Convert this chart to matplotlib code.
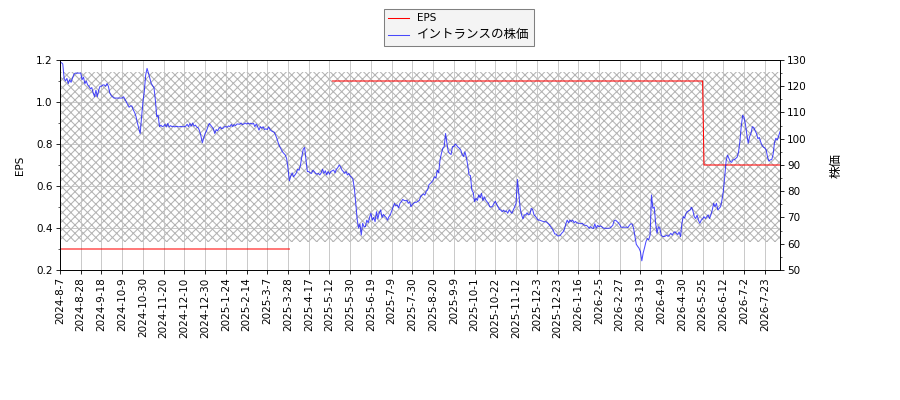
import numpy as np
import matplotlib
matplotlib.use("Agg")
import matplotlib.pyplot as plt
from matplotlib.ticker import AutoMinorLocator

plt.rcParams['font.family'] = ['DejaVu Sans', 'Noto Sans CJK JP']

# tick labels, one every 15 trading days
tick_labels = [
    "2024-8-7", "2024-8-28", "2024-9-18", "2024-10-9", "2024-10-30", "2024-11-20",
    "2024-12-10", "2024-12-30", "2025-1-24", "2025-2-14", "2025-3-7", "2025-3-28",
    "2025-4-17", "2025-5-12", "2025-5-30", "2025-6-19", "2025-7-9", "2025-7-30",
    "2025-8-20", "2025-9-9", "2025-10-1", "2025-10-22", "2025-11-12", "2025-12-3",
    "2025-12-23", "2026-1-16", "2026-2-5", "2026-2-27", "2026-3-19", "2026-4-9",
    "2026-4-30", "2026-5-25", "2026-6-12", "2026-7-2", "2026-7-23",
]
tick_step = 15

# daily share price, 15 days per row
price = [
    129, 129, 128.5, 123, 122, 123, 121, 122.5, 121.5, 123, 124.5, 125, 125, 125, 125,
    125, 122.5, 123.5, 121, 122, 120.5, 120, 119, 119.5, 117.5, 116, 118.5, 116, 118.5, 120,
    120, 120.5, 120.5, 120, 121, 120, 117.5, 116.5, 116, 115.5, 115.5, 115.5, 115.5, 115.5, 115.5,
    115.5, 116, 115, 114, 113, 112, 112.5, 112.5, 111, 110, 108.5, 106, 104, 102, 108,
    114, 118, 124.3, 126.8, 125, 123, 121.1, 120.2, 119.5, 114.8, 108.4, 109, 104.6, 105.2, 104.6,
    104.8, 105.5, 104.5, 105.8, 104.5, 105, 104.6, 104.8, 104.5, 104.7, 104.7, 104.5, 104.7, 104.6, 104.6,
    104.6, 104.8, 105.5, 104.6, 105.8, 104.8, 106, 104.8, 105.2, 104.4, 104.2, 103, 101, 98.5, 100.2,
    102, 103, 104.5, 105.8, 105.2, 104.5, 103.8, 102, 103.5, 103, 104, 104.5, 103.8, 104, 104.6,
    104.6, 104.4, 104.9, 104.6, 105.5, 104.6, 105.4, 105, 105.6, 105.6, 105.5, 106, 105.4, 105.6, 106,
    105.6, 106, 105.6, 105.9, 105.6, 105.9, 104.6, 105.6, 104.6, 103.3, 104.6, 104, 104.6, 103.5, 103.8,
    103.5, 104.5, 103.5, 103, 102.7, 102.5, 101.4, 100, 98.3, 97, 96, 95, 94.4, 93.8, 92.5,
    88.5, 84, 85.8, 87, 85.5, 86.2, 87, 88.4, 88, 90, 93.2, 96, 96.7, 91.9, 87.5,
    87.5, 87, 86.8, 88, 87.5, 86.8, 86.5, 86.8, 86.2, 87, 88.4, 86.8, 87.8, 86.2, 87.5,
    86.5, 87.5, 87.8, 88.1, 87, 88.4, 89, 90, 89.3, 88.1, 87.5, 86.8, 87.5, 86.2, 86.8,
    85.8, 85.3, 84.5, 81, 75.5, 69.5, 66, 67.5, 63.3, 67.8, 66.5, 66.5, 69, 68, 70,
    71.6, 69, 70, 68.4, 72.2, 69.5, 71.8, 72.9, 70, 71.2, 70.5, 70, 69, 70.3, 71,
    72.5, 73.9, 75.4, 74.4, 74.8, 73.6, 75.4, 76, 76.9, 76.5, 76.4, 76.6, 75.4, 76, 74.1,
    75, 75.5, 75.8, 75.8, 76.2, 76.5, 78, 78.5, 79, 78.5, 80, 80.5, 82.5, 83, 83.5,
    84.3, 85.5, 85, 88, 87, 92, 94.4, 96.4, 97, 102, 98.3, 95, 94.4, 94, 97,
    97, 98, 97.5, 96.8, 96.4, 95.7, 94, 93.2, 95, 93, 90, 86.2, 86, 80.5, 79.5,
    76, 77.3, 76.5, 78.6, 77.5, 79.2, 76.5, 77.9, 76.7, 76, 75.4, 74.1, 74, 74.3, 75.4,
    76.2, 75, 74, 73.1, 72.8, 72.2, 72.8, 72.2, 72.5, 71.6, 72.9, 72.2, 71.6, 72.9, 74,
    75.4, 84.5, 79, 73.5, 71, 69.5, 71, 71, 71.8, 71, 71.3, 73.5, 73, 71, 70.5,
    69.7, 69, 69, 68.8, 68.6, 68.4, 68.4, 68.3, 67.8, 67.3, 66.5, 65.8, 65, 63.7, 63.7,
    63, 63, 63.2, 64, 64.5, 65.5, 67.5, 69, 68, 69, 68.5, 69, 68, 68.5, 68,
    67.8, 67.8, 67.6, 67.8, 67.2, 67, 67, 66.5, 65.9, 66.5, 66, 65.8, 67.6, 65.9, 67,
    66.5, 66.8, 66.5, 66, 65.9, 65.9, 65.9, 65.9, 66, 66.5, 67, 68.8, 69, 68.5, 68,
    67.3, 66.3, 66.3, 66.3, 66.3, 66.3, 66.2, 67, 67.6, 67.5, 66, 63, 59.8, 59, 58.3,
    57, 53.5, 56.5, 58.5, 60.8, 62, 61.5, 63.3, 78.6, 73.5, 74, 67.8, 64, 66.5, 66,
    63.3, 62.8, 62.7, 62.9, 63.3, 62.8, 63.3, 64, 63.3, 64.2, 64.6, 64, 63.5, 64.5, 62.7,
    67.8, 70.3, 69.8, 71.6, 72.2, 72.6, 72.9, 73.9, 72.5, 70.3, 69.6, 70.9, 69, 67.8, 69,
    69.5, 70.3, 69.6, 70.3, 71, 69.6, 71, 72.9, 75.4, 74.1, 75.4, 72.9, 73.5, 74.1, 76.7,
    80, 85.5, 91.5, 93.8, 92.5, 91.3, 91, 92, 92, 92.5, 93, 95, 99, 105, 109,
    108, 105.5, 101.5, 98.3, 100.8, 102, 104.6, 104.3, 103, 102, 100, 100.5, 98.8, 97.5, 96.8,
    96.5, 95.7, 93, 91.5, 92, 92, 94, 98.5, 100.2, 99.5, 101, 102.7,
]

# EPS as runs of (value, number of days); nan = no value
eps_levels = [0.3, np.nan, 1.1, 0.7]
eps_days = [167, 30, 269, 56]

# hatched band (left axis units)
band_low, band_high = 0.333, 1.143

eps = np.repeat(eps_levels, eps_days)
x = np.arange(len(price))

fig = plt.figure(figsize=(12, 16 / 3), dpi=75)
fig.subplots_adjust(left=60 / 900, right=780 / 900, top=340 / 400, bottom=130 / 400)
ax = fig.add_subplot(111)
ax2 = ax.twinx()

ax.axhspan(band_low, band_high, facecolor='none', edgecolor='#b4b4b4',
           hatch='xxx', linewidth=0, zorder=0)
l1, = ax.plot(x, eps, color='red', linewidth=1, label='EPS')
l2, = ax2.plot(x, price, color='blue', alpha=0.7, linewidth=1, label='イントランスの株価')

ax.set_xlim(0, len(price) - 1)
ax.set_ylim(0.2, 1.2)
ax2.set_ylim(50, 130)
ax.set_xticks(np.arange(0, len(price), tick_step))
ax.set_xticklabels(tick_labels, rotation=90)
ax.yaxis.set_minor_locator(AutoMinorLocator(2))
ax2.yaxis.set_minor_locator(AutoMinorLocator(2))
ax.grid(True, color='#c0c0c0', linewidth=0.8)

ax.set_ylabel('EPS', labelpad=11)
ax2.set_ylabel('株価', fontsize=12, labelpad=22)

leg = fig.legend(handles=[l1, l2], loc='upper left', bbox_to_anchor=(384 / 900, 1 - 9 / 400),
                 borderaxespad=0, fancybox=False, facecolor='#f4f4f4', edgecolor='#808080',
                 framealpha=1)
leg.get_texts()[1].set_fontsize(12)

fig.savefig('out.png', dpi=75)
